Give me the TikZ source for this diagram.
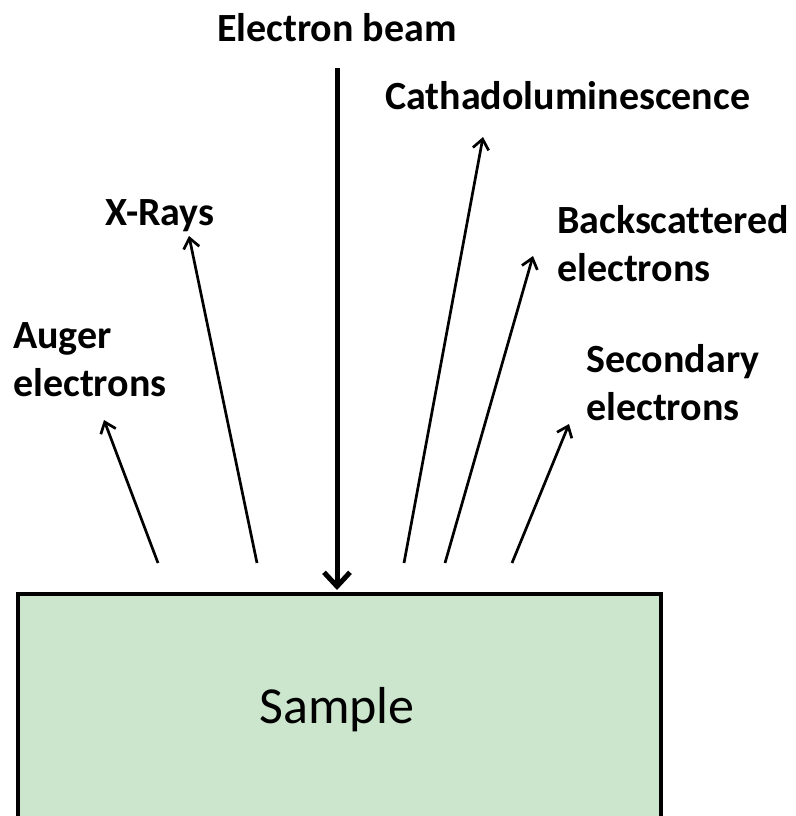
\documentclass[tikz,border=0pt]{standalone}
\usepackage{fontspec}
\setmainfont{Carlito}[Ligatures=NoCommon]
\usetikzlibrary{arrows.meta}
\definecolor{samplegreen}{RGB}{204,230,205}
\begin{document}
\begin{tikzpicture}[x=1pt,y=-1pt,
  lbl/.style={font=\fontsize{40}{48}\selectfont\bfseries, inner sep=0pt, align=left, anchor=base west},
  emit/.style={line width=2.7pt, -{Straight Barb[length=10pt,width=16pt,line width=2.7pt]}},
  beam/.style={line width=5pt, -{Straight Barb[length=14pt,width=26pt,line width=5pt]}}]
\useasboundingbox (0,0) rectangle (795,816);
\node[draw, line width=4pt, fill=samplegreen, minimum width=643pt, minimum height=240pt, anchor=north west, inner sep=0pt] (sample) at (16,592) {};
\node[font=\fontsize{52}{60}\selectfont, inner sep=0pt, anchor=base] (samplelbl) at (337,723) {Sample};
\node[lbl, anchor=base] (beamlbl) at (337,42) {Electron beam};
\node[lbl] (cath) at (385,109) {Cathadoluminescence};
\node[lbl] (xray) at (105,225) {X-Rays};
\node[lbl] (back) at (557,281) {Backscattered\\electrons};
\node[lbl] (auger) at (13,396) {Auger\\electrons};
\node[lbl] (sec) at (586,420) {Secondary\\electrons};
\coordinate (bs) at (337,68);
\coordinate (be) at (337,590);
\draw[beam] (bs) -- (be);
\coordinate (a0) at (158,563); \coordinate (a1) at (104,420);
\coordinate (x0) at (257,563); \coordinate (x1) at (189,236);
\coordinate (c0) at (404,563); \coordinate (c1) at (483,137);
\coordinate (k0) at (445,563); \coordinate (k1) at (533,256);
\coordinate (s0) at (512,563); \coordinate (s1) at (569,424);
\draw[emit] (a0) -- (a1);
\draw[emit] (x0) -- (x1);
\draw[emit] (c0) -- (c1);
\draw[emit] (k0) -- (k1);
\draw[emit] (s0) -- (s1);
\end{tikzpicture}
\end{document}
